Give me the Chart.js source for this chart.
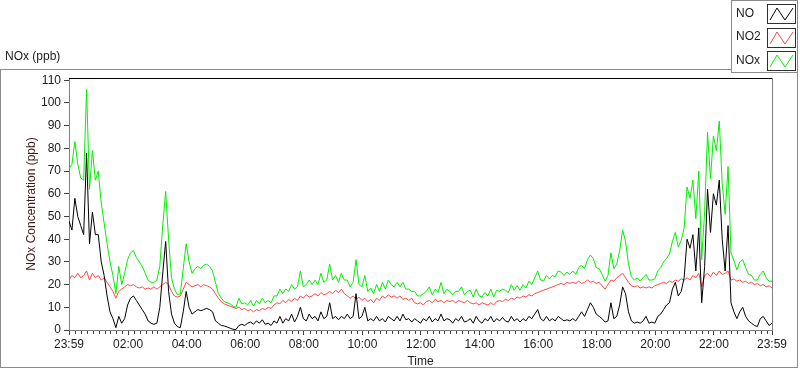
<!DOCTYPE html>
<html>
<head>
<meta charset="utf-8">
<script src="https://cdn.jsdelivr.net/npm/chart.js@4.4.0/dist/chart.umd.min.js"></script>
<style>
    html, body { margin: 0; padding: 0; background: #fff; }
    #wrap { width: 800px; height: 369px; }
</style>
</head>
<body>
<div id="wrap"><canvas id="noxChart" width="800" height="369"></canvas></div>
<script>
// one reading every 6 minutes, starting at 23:59
const STEP_MIN = 6;
const START_OF_DAY_MIN = 23 * 60 + 59;

const seriesLabels = ['NO', 'NO2', 'NOx'];
const seriesColors = ['#000000', '#ff4747', '#00f000'];

const noValues = [
    48, 44, 58, 50, 46, 42, 78, 38, 52, 42,
    42, 30, 24, 15, 8, 5, 1, 6, 3, 5,
    11, 14, 15, 13, 11, 9, 7, 4, 3, 2.5,
    3, 10, 25, 39, 17, 7, 3, 1.5, 1, 8,
    17, 10, 7, 8, 9, 8.5, 9, 9.5, 9, 8,
    4, 3, 2, 1.8, 1.3, 0.8, 0.3, 0.2, 2, 2.5,
    2, 3, 3.5, 2.5, 4, 3, 4.5, 2.5, 3, 2,
    4, 3, 6, 3, 5, 4, 7, 3.5, 6, 10,
    5, 4, 7, 5, 6, 4, 8, 5, 6, 12,
    5, 6, 4.5, 6, 5, 7, 5, 6, 16, 5,
    6, 10, 4, 5, 4, 6, 4, 5, 3.5, 6,
    5, 4, 6, 4, 7, 4.5, 5, 3.5, 5, 4,
    3, 5, 4, 6, 3.5, 5, 4, 7, 4, 5,
    4.5, 3, 5, 4, 6, 3.5, 4, 5, 3, 6,
    4, 3, 5, 4, 6, 3.5, 5, 4, 5.5, 4,
    3.5, 6, 4, 5, 3.5, 5, 4, 6, 5, 7,
    9, 5, 4, 6, 4, 5, 4, 6, 5, 4,
    4.5, 4, 5, 4, 6, 8, 6, 9, 12, 10,
    7, 6, 5, 3.5, 4, 12, 5, 6, 11, 19,
    16, 8, 4, 3, 3.5, 3, 4, 6, 3, 3.5,
    3, 6, 7, 9, 11, 12, 18, 21, 15, 17,
    23, 40, 36, 42, 26, 45, 12, 28, 62, 43,
    60, 55, 66, 40, 26, 46, 12, 8, 5, 8,
    10, 6, 4, 3, 2, 1.5, 5, 6, 4, 2, 3
];

const no2Values = [
    22, 24, 23, 25, 23, 24, 26, 22, 25, 23,
    24, 22, 23, 21, 19, 17, 14, 17, 18, 19,
    20, 19.5, 20, 19, 18.5, 19, 18, 18.5, 18, 19,
    18, 19, 20, 21, 20, 17, 15, 14.5, 15, 18,
    21, 20, 19, 19.5, 20, 19, 20, 19.5, 19, 18,
    16, 14, 12.5, 11.5, 11, 10.5, 10, 9.5, 10, 9,
    9.5, 8.5, 9, 8, 9, 8.5, 9.5, 9, 10, 9.5,
    11, 12, 11.5, 13, 12, 13.5, 12.5, 14, 13, 15,
    14, 15.5, 14.5, 15, 16, 15, 16.5, 15.5, 16, 17,
    16, 17.5, 16.5, 18, 16, 15, 14, 15, 13.5, 14.5,
    13, 14, 12.5, 13.5, 12, 14, 13, 15, 14, 15.5,
    14.5, 15, 14, 15, 13.5, 14, 13, 14, 12, 11.5,
    12, 11, 12.5, 13, 12, 13.5, 12.5, 13, 12, 13,
    12.5, 13, 12, 13, 12.5, 12, 13, 12, 11.5, 12,
    11, 12, 11.5, 11, 12, 11, 12.5, 13, 12.5, 13.5,
    13, 14, 13.5, 14.5, 14, 15, 14.5, 15.5, 15, 16,
    16.5, 17, 17.5, 18, 18.5, 19, 19.5, 20, 20.5, 20,
    21, 20.5, 21, 20.5, 21.5, 20.5, 21, 22, 21, 21.5,
    20.5, 21, 19.5, 18, 20, 22, 21.5, 23, 24, 25,
    23, 21, 19.5, 19, 19.5, 18.5, 19, 18.5, 19, 18.5,
    19.5, 20, 20.5, 21, 20.5, 21.5, 21, 22, 21.5, 22.5,
    22, 23, 22, 24, 23, 25, 19, 24, 25, 23.5,
    25.5, 24, 26, 24.5, 25, 26, 22, 22.5, 21.5, 22,
    21, 21.5, 20.5, 21, 20, 20.5, 19.5, 20, 19, 19.5, 18.5
];

const noxValues = [
    71, 73, 83, 73, 67, 66, 106, 62, 79, 66,
    70, 56, 47, 38, 30, 24, 16, 28, 20, 25,
    31, 34, 35, 32, 30, 28, 25, 22, 21, 21,
    22, 28, 46, 61, 40, 23, 18, 15.5, 16, 27,
    38, 30, 25, 27, 28, 27, 28.5, 29, 28, 26,
    21, 16, 14, 12.5, 12, 11.5, 10.5, 10, 14, 11.5,
    12, 11, 13, 10.5, 13, 11.5, 14, 12, 13, 12,
    15, 15, 18, 16, 18, 17, 20, 18, 19, 26,
    19, 20, 22, 20, 22, 20, 25, 21, 22, 29,
    22, 24, 21, 25, 22, 22, 19, 21, 31, 20,
    19, 24, 17, 18.5, 16, 20, 17, 21, 18, 22,
    20, 19, 21, 19, 21, 18, 18, 17, 17, 15,
    15, 16, 17, 19, 15.5, 18, 16.5, 21, 16, 18,
    17, 15.5, 17, 17, 19, 15.5, 17, 17.5, 14.5, 18,
    15, 14.5, 16.5, 15, 18, 14.5, 17.5, 17, 18, 17.5,
    16.5, 20, 17.5, 19.5, 17.5, 20, 18.5, 21.5, 20, 23,
    26, 22, 21.5, 24, 22.5, 24, 23.5, 26, 25.5, 24,
    25.5, 24.5, 26, 24.5, 27.5, 28.5, 27, 31, 33, 31.5,
    27.5, 27, 24.5, 21.5, 24, 34, 27, 29, 35, 44,
    39, 29, 23.5, 22, 23, 21.5, 23, 24.5, 22, 22,
    22.5, 26, 27.5, 30, 31.5, 33.5, 39, 43, 36.5, 39.5,
    45, 63, 58, 66, 49, 70, 31, 52, 87, 66.5,
    85.5, 79, 92, 64.5, 51, 72, 34, 30.5, 26.5, 30,
    31, 27.5, 24.5, 24, 22, 22, 24.5, 26, 23, 21.5, 21.5
];

// labelled x ticks (minutes after 23:59) and y ticks
const xMajorMinutes = [0, 121, 241, 361, 481, 601, 721, 841, 961, 1081, 1201, 1321, 1440];
const yTickValues = [0, 10, 20, 30, 40, 50, 60, 70, 80, 90, 100, 110];

const FONT = '"Liberation Sans", Arial, sans-serif';
const TEXT = '#1c1c1c';

function clockLabel(m) {
    const t = (START_OF_DAY_MIN + m) % 1440;
    const h = Math.floor(t / 60), mm = t % 60;
    return String(h).padStart(2, '0') + ':' + String(mm).padStart(2, '0');
}

function toPoints(values) {
    return values.map((v, i) => ({ x: i * STEP_MIN, y: v }));
}

const frameParts = {
    id: 'frameParts',
    beforeDraw(chart) {
        const ctx = chart.ctx;
        ctx.save();
        ctx.fillStyle = '#fff';
        ctx.fillRect(0, 0, chart.width, chart.height);
        ctx.strokeStyle = '#8a8a8a';
        ctx.lineWidth = 1;
        ctx.strokeRect(0.5, 69.5, 797, 298);
        ctx.font = '12px ' + FONT;
        ctx.fillStyle = TEXT;
        ctx.textBaseline = 'middle';
        ctx.fillText('NOx (ppb)', 5, 57);
        ctx.restore();
    },
    afterDraw(chart) {
        const ctx = chart.ctx;
        const { left, right, top, bottom } = chart.chartArea;
        const xs = chart.scales.x;
        ctx.save();
        ctx.lineWidth = 1;

        // plot outline: dark top edge, grey right edge
        ctx.strokeStyle = '#000';
        ctx.beginPath();
        ctx.moveTo(left, top + 0.5);
        ctx.lineTo(right + 1, top + 0.5);
        ctx.stroke();
        ctx.strokeStyle = '#808080';
        ctx.beginPath();
        ctx.moveTo(right + 0.5, top);
        ctx.lineTo(right + 0.5, bottom + 1);
        ctx.stroke();

        // minor ticks every 12 minutes
        ctx.strokeStyle = '#404040';
        ctx.beginPath();
        for (let m = 13; m < 1440; m += 12) {
            if ((m - 1) % 120 === 0) continue;
            const px = Math.round(xs.getPixelForValue(m)) + 0.5;
            ctx.moveTo(px, bottom + 1);
            ctx.lineTo(px, bottom + 4);
        }
        ctx.stroke();

        // legend box with zigzag swatches
        ctx.fillStyle = '#fff';
        ctx.fillRect(731, 0, 67, 73);
        ctx.strokeStyle = '#8a8a8a';
        ctx.strokeRect(731.5, 0.5, 66, 72);
        ctx.font = '12px ' + FONT;
        ctx.textBaseline = 'middle';
        chart.data.datasets.forEach((ds, i) => {
            const y0 = 4 + i * 23.5;
            ctx.fillStyle = TEXT;
            ctx.fillText(ds.label, 736, y0 + 9.5);
            ctx.strokeStyle = '#303030';
            ctx.strokeRect(767.5, Math.round(y0) + 0.5, 28, 19);
            ctx.strokeStyle = ds.borderColor;
            ctx.beginPath();
            const by = Math.round(y0);
            ctx.moveTo(770, by + 16);
            ctx.lineTo(777, by + 4);
            ctx.lineTo(785, by + 16);
            ctx.lineTo(793, by + 4);
            ctx.stroke();
        });
        ctx.restore();
    }
};

const ctx = document.getElementById('noxChart').getContext('2d');
const noxChart = new Chart(ctx, {
    type: 'line',
    data: {
        datasets: [
            { label: seriesLabels[0], data: toPoints(noValues), borderColor: seriesColors[0] },
            { label: seriesLabels[1], data: toPoints(no2Values), borderColor: seriesColors[1] },
            { label: seriesLabels[2], data: toPoints(noxValues), borderColor: seriesColors[2] }
        ]
    },
    options: {
        responsive: false,
        devicePixelRatio: 1,
        animation: false,
        layout: { padding: { top: 78, right: 28, bottom: 0, left: 0 } },
        elements: {
            line: { borderWidth: 1, tension: 0 },
            point: { radius: 0 }
        },
        plugins: {
            legend: { display: false },
            tooltip: { enabled: false }
        },
        scales: {
            x: {
                type: 'linear',
                min: 0,
                max: 1440,
                afterBuildTicks: s => { s.ticks = xMajorMinutes.map(v => ({ value: v })); },
                afterFit: s => { s.height = 39; },
                ticks: {
                    callback: v => clockLabel(v),
                    autoSkip: false,
                    maxRotation: 0,
                    padding: 2,
                    color: TEXT,
                    font: { family: FONT, size: 12 }
                },
                grid: { drawOnChartArea: false, tickLength: 5, tickColor: '#404040' },
                border: { color: '#808080' },
                title: {
                    display: true,
                    text: 'Time',
                    color: TEXT,
                    font: { family: FONT, size: 12 },
                    padding: { top: 2, bottom: 0 }
                }
            },
            y: {
                min: 0,
                max: 111,
                afterBuildTicks: s => { s.ticks = yTickValues.map(v => ({ value: v })); },
                afterFit: s => { s.width = 69; },
                ticks: {
                    padding: 3,
                    color: TEXT,
                    font: { family: FONT, size: 12 }
                },
                grid: { drawOnChartArea: false, tickLength: 5, tickColor: '#404040' },
                border: { color: '#808080' },
                title: {
                    display: true,
                    text: 'NOx Concentration (ppb)',
                    color: '#3a1c1c',
                    font: { family: FONT, size: 12 },
                    padding: { top: 24, bottom: 0 }
                }
            }
        }
    },
    plugins: [frameParts]
});
</script>
</body>
</html>
